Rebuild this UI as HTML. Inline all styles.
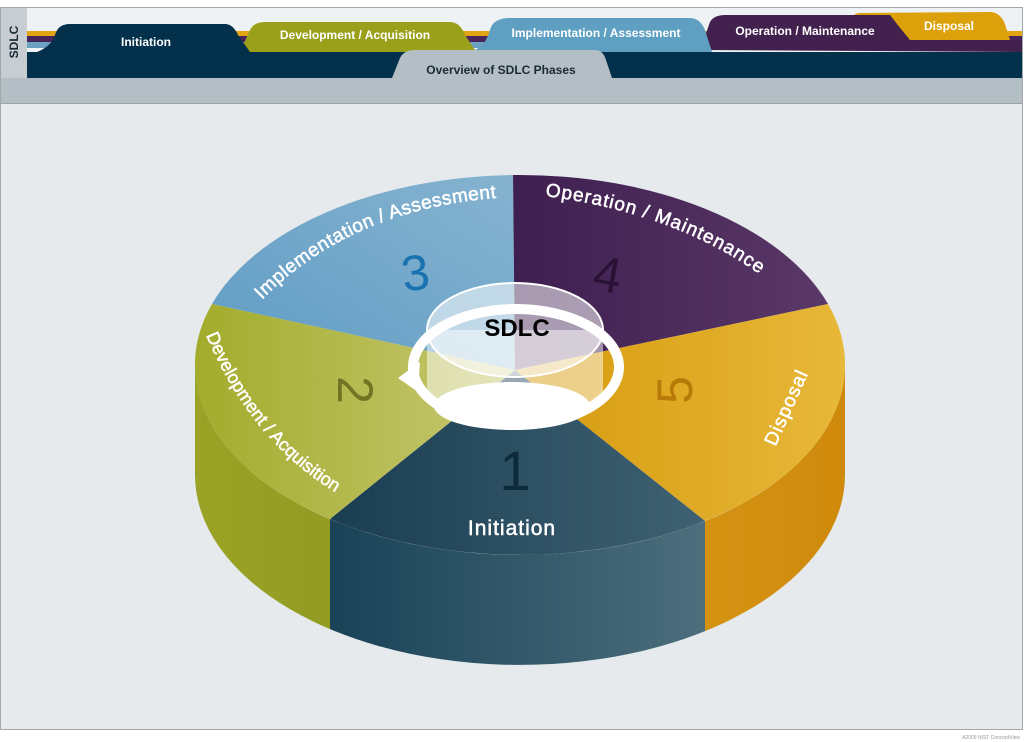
<!DOCTYPE html>
<html><head><meta charset="utf-8"><style>
html,body{margin:0;padding:0;background:#fff;}
svg{display:block;font-family:"Liberation Sans",Arial,sans-serif;}
</style></head><body>
<svg width="1024" height="742" viewBox="0 0 1024 742">
<defs>
<linearGradient id="gFront" x1="0" x2="1"><stop offset="0" stop-color="#07324a"/><stop offset="1" stop-color="#5f7f8a"/></linearGradient>
<linearGradient id="gLeft" x1="0" x2="1"><stop offset="0" stop-color="#9aa325"/><stop offset="1" stop-color="#77801a"/></linearGradient>
<linearGradient id="gRight" x1="0" x2="1"><stop offset="0" stop-color="#e7b02c"/><stop offset="1" stop-color="#cf8a0c"/></linearGradient>
<linearGradient id="gBlue" x1="0" x2="1" y1="1" y2="0"><stop offset="0" stop-color="#5f9cc4"/><stop offset="1" stop-color="#86b3d0"/></linearGradient>
<linearGradient id="gPurple" x1="0" x2="1"><stop offset="0" stop-color="#3e1f4f"/><stop offset="1" stop-color="#5a3868"/></linearGradient>
<linearGradient id="gGold" x1="0" x2="1"><stop offset="0" stop-color="#d59a0c"/><stop offset="1" stop-color="#e8b83a"/></linearGradient>
<linearGradient id="gNavy" x1="0" x2="1"><stop offset="0" stop-color="#1a3d52"/><stop offset="1" stop-color="#3f6272"/></linearGradient>
<linearGradient id="gOlive" x1="0" x2="1"><stop offset="0" stop-color="#a3ac2c"/><stop offset="1" stop-color="#c8c874"/></linearGradient>
<clipPath id="cL"><rect x="0" y="0" width="330" height="742"/></clipPath>
<clipPath id="cM"><rect x="330" y="0" width="375" height="742"/></clipPath>
<clipPath id="cR"><rect x="705" y="0" width="319" height="742"/></clipPath>
<path id="pImpl" d="M262,300 Q350,210 495,198"/>
<path id="pOp" d="M545,196 Q690,215 780,290"/>
<path id="pDev" d="M206,335 Q250,440 335,492"/>
</defs>
<rect x="0" y="0" width="1024" height="742" fill="#ffffff"/>
<rect x="0.5" y="7.5" width="1022" height="722" fill="#e6eaec" stroke="#a0a8ad"/>
<rect x="27" y="8" width="995" height="70" fill="#eef2f5"/>
<rect x="1" y="8" width="26" height="70" fill="#c8cdd1"/>
<text x="18" y="42" font-size="12" font-weight="bold" fill="#1a2a35" text-anchor="middle" transform="rotate(-90 18 42)">SDLC</text>
<rect x="27" y="31" width="995" height="5" fill="#e3a414"/>
<rect x="27" y="36" width="995" height="6" fill="#47245a"/>
<rect x="27" y="42" width="995" height="6" fill="#6ba2c4"/>
<rect x="27" y="52" width="995" height="26" fill="#03304a"/>
<rect x="1" y="78" width="1021" height="25" fill="#b3bfc4"/>
<line x1="1" y1="103.5" x2="1022" y2="103.5" stroke="#9aa3a8"/>
<path d="M840,40 Q848,13 860,13 L990,12 Q1000,12 1005,24 L1010,40 Z" fill="#dca10a"/>
<text x="949" y="30" font-size="12" font-weight="bold" fill="#fff" text-anchor="middle">Disposal</text>
<path d="M700,50 L710,22 Q714,15 725,15 L890,15 Q900,28 910,40 L1022,40 L1022,52 Z" fill="#43214f"/>
<text x="805" y="35" font-size="12" font-weight="bold" fill="#fff" text-anchor="middle">Operation / Maintenance</text>
<path d="M470,52 Q485,48 490,30 Q493,18 510,18 L690,18 Q700,18 705,30 L712,52 Z" fill="#5f9fc2"/>
<text x="596" y="37" font-size="12" font-weight="bold" fill="#fff" text-anchor="middle">Implementation / Assessment</text>
<path d="M240,52 L250,30 Q254,22 265,22 L450,22 Q460,22 465,35 L475,50 L480,52 Z" fill="#9aa01a"/>
<text x="355" y="39" font-size="12" font-weight="bold" fill="#fff" text-anchor="middle">Development / Acquisition</text>
<path d="M27,55 Q50,50 55,35 Q58,24 70,24 L225,24 Q233,24 238,35 L250,52 L27,60 Z" fill="#03304a"/>
<text x="146" y="46" font-size="12" font-weight="bold" fill="#fff" text-anchor="middle">Initiation</text>
<path d="M392,78 L400,58 Q404,50 415,50 L595,50 Q603,50 606,60 L612,78 Z" fill="#b3bfc4"/>
<text x="501" y="74" font-size="12" font-weight="bold" fill="#1a2a35" text-anchor="middle">Overview of SDLC Phases</text>
<g>
<path d="M195,365 A325,190 0 0 0 845,365 L845,475 A325,190 0 0 1 195,475 Z" fill="url(#gLeft)" clip-path="url(#cL)"/>
<path d="M195,365 A325,190 0 0 0 845,365 L845,475 A325,190 0 0 1 195,475 Z" fill="url(#gFront)" clip-path="url(#cM)"/>
<path d="M195,365 A325,190 0 0 0 845,365 L845,475 A325,190 0 0 1 195,475 Z" fill="url(#gRight)" clip-path="url(#cR)"/>
</g>
<path d="M515,370 L212,304 A325,190 0 0 1 513,175 Z" fill="url(#gBlue)"/>
<path d="M515,370 L513,175 A325,190 0 0 1 828,304 Z" fill="url(#gPurple)"/>
<path d="M515,370 L828,304 A325,190 0 0 1 705,521 Z" fill="url(#gGold)"/>
<path d="M515,370 L705,521 A325,190 0 0 1 330,519 Z" fill="url(#gNavy)"/>
<path d="M515,370 L330,519 A325,190 0 0 1 212,304 Z" fill="url(#gOlive)"/>
<g fill="#fff" stroke="#fff" stroke-width="0.5">
<text font-size="19" letter-spacing="0.5"><textPath href="#pImpl">Implementation / Assessment</textPath></text>
<text font-size="19" letter-spacing="1"><textPath href="#pOp">Operation / Maintenance</textPath></text>
<text font-size="18"><textPath href="#pDev">Development / Acquisition</textPath></text>
<text x="792" y="410" font-size="19" text-anchor="middle" transform="rotate(-66 792 410)" letter-spacing="1">Disposal</text>
<text x="512" y="535" font-size="21" text-anchor="middle" letter-spacing="1">Initiation</text>
</g>
<text x="415" y="290" font-size="50" fill="#1a73b0" text-anchor="middle" transform="rotate(-8 415 270)">3</text>
<text x="608" y="292" font-size="50" fill="#2a1236" text-anchor="middle" transform="rotate(10 608 272)">4</text>
<text x="355" y="407" font-size="50" fill="#6f7522" text-anchor="middle" transform="rotate(90 355 390)">2</text>
<text x="675" y="407" font-size="50" fill="#b77a08" text-anchor="middle" transform="rotate(-90 675 390)">5</text>
<text x="515" y="490" font-size="56" fill="#0c2a3a" text-anchor="middle">1</text>
<path d="M427,330 L427,392 A88,20 0 0 0 603,392 L603,330 Z" fill="#ffffff" fill-opacity="0.5"/>
<ellipse cx="515" cy="330" rx="88" ry="47" fill="#ffffff" fill-opacity="0.55" stroke="#fff" stroke-width="2"/>
<ellipse cx="516" cy="367" rx="103" ry="58" fill="none" stroke="#fff" stroke-width="10"/>
<path d="M398,378 L420,362 L418,392 Z" fill="#fff"/>
<ellipse cx="512" cy="406" rx="78" ry="24" fill="#fff"/>
<text x="517" y="336" font-size="24" font-weight="bold" fill="#000" text-anchor="middle">SDLC</text>
<text x="1020" y="739" font-size="5" fill="#999" text-anchor="end">A2009 NIST ConceptView</text>
</svg>
</body></html>
